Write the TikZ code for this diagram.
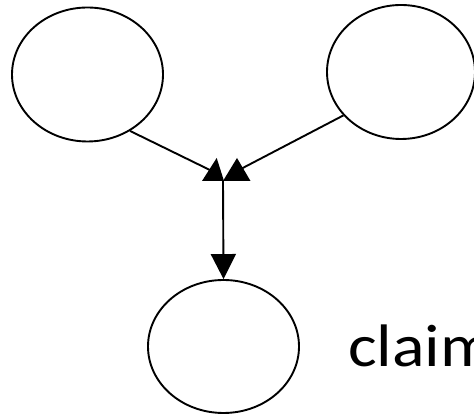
\documentclass[tikz,border=0pt]{standalone}
\usepackage{fontspec}
\setmainfont{Carlito}
\usetikzlibrary{shapes.geometric,arrows.meta}
\tikzset{
  bubble/.style={ellipse, draw=black, line width=1.9pt, inner sep=0pt,
                 minimum width=151pt, minimum height=134pt},
  link/.style={line width=1.9pt, draw=black},
  headfill/.style={fill=black}
}
\begin{document}
\begin{tikzpicture}[x=1pt,y=1pt]
  \useasboundingbox (0,0) rectangle (474,414);
  % three variables
  \node[bubble] (L) at (87.5,339.5) {};
  \node[bubble, minimum width=148pt] (R) at (401,342) {};
  \node[bubble, minimum height=133pt] (B) at (223.5,67.5) {};
  % where the two parent links meet
  \coordinate (hl) at (216,241);
  \coordinate (hr) at (237,243);
  \coordinate (J) at (223,233);
  \draw[link] (L.-53) -- (hl);
  \draw[link] (R.217.7) -- (hr);
  \fill[headfill] (202,233) -- (216.7,256) -- (224,233) -- cycle;
  \fill[headfill] (223,233) -- (237,256) -- (250.5,233) -- cycle;
  % link down to the child
  \draw[link, -{Triangle[length=25pt,width=25pt]}] (J) -- (B.north);
  % label
  \node[anchor=base west, inner sep=0pt, xscale=1.13,
        font=\fontsize{60}{72}\selectfont] (lab) at (348,47) {claim};
\end{tikzpicture}
\end{document}
